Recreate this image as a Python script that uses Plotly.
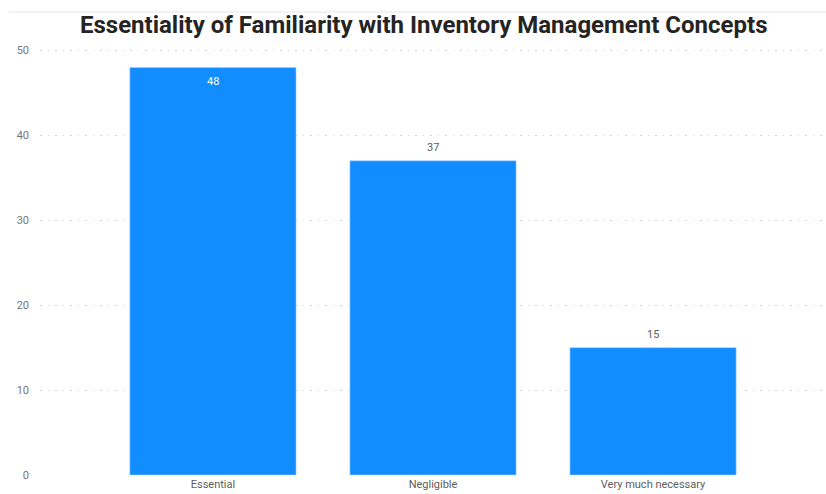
import plotly.graph_objects as go

categories = ["Essential", "Negligible", "Very much necessary"]
values = [48, 37, 15]
label_shifts = [-14, 13, 13]
label_colors = ["#FFFFFF", "#605E5C", "#605E5C"]

fig = go.Figure()
fig.add_trace(go.Bar(
    x=categories, y=values,
    marker=dict(color="#118DFF", line=dict(color="#9FCBFF", width=0.6)),
    hoverinfo="skip",
))

for c, v, s, col in zip(categories, values, label_shifts, label_colors):
    fig.add_annotation(
        x=c, y=v, text=str(v), showarrow=False, yanchor="middle", yshift=s,
        font=dict(family="Roboto, Open Sans, sans-serif", size=11, color=col),
    )

fig.update_layout(
    width=826, height=494,
    margin=dict(l=40, r=0, t=42, b=19, autoexpand=False),
    paper_bgcolor="white", plot_bgcolor="white",
    bargap=0.245,
    showlegend=False,
    title=dict(
        text="<b>Essentiality of Familiarity with Inventory Management Concepts</b>",
        x=0.513, xanchor="center", y=0.951, yanchor="middle",
        font=dict(family="Roboto, DejaVu Sans, sans-serif", size=24, color="#252423"),
    ),
    xaxis=dict(
        range=[-0.786, 2.786],
        showgrid=False, zeroline=False, showline=False, automargin=False,
        tickfont=dict(family="Roboto, Open Sans, sans-serif", size=11, color="#605E5C"),
        ticks="", ticklen=0, ticklabelstandoff=1,
    ),
    yaxis=dict(
        range=[0, 51],
        tickvals=[0, 10, 20, 30, 40, 50],
        showgrid=True, gridcolor="#D2D2D2", griddash="1.5px,6px", gridwidth=1,
        zeroline=False, showline=False, automargin=False,
        tickfont=dict(family="Roboto, Open Sans, sans-serif", size=11, color="#777777"),
        ticks="", ticklabelstandoff=10,
    ),
    shapes=[dict(type="line", xref="paper", yref="paper",
                 x0=-0.04, x1=1.0, y0=1.0 + (42 - 12) / 433, y1=1.0 + (42 - 12) / 433,
                 line=dict(color="#E6E6E6", width=1))],
)

fig.write_html("out.html")
